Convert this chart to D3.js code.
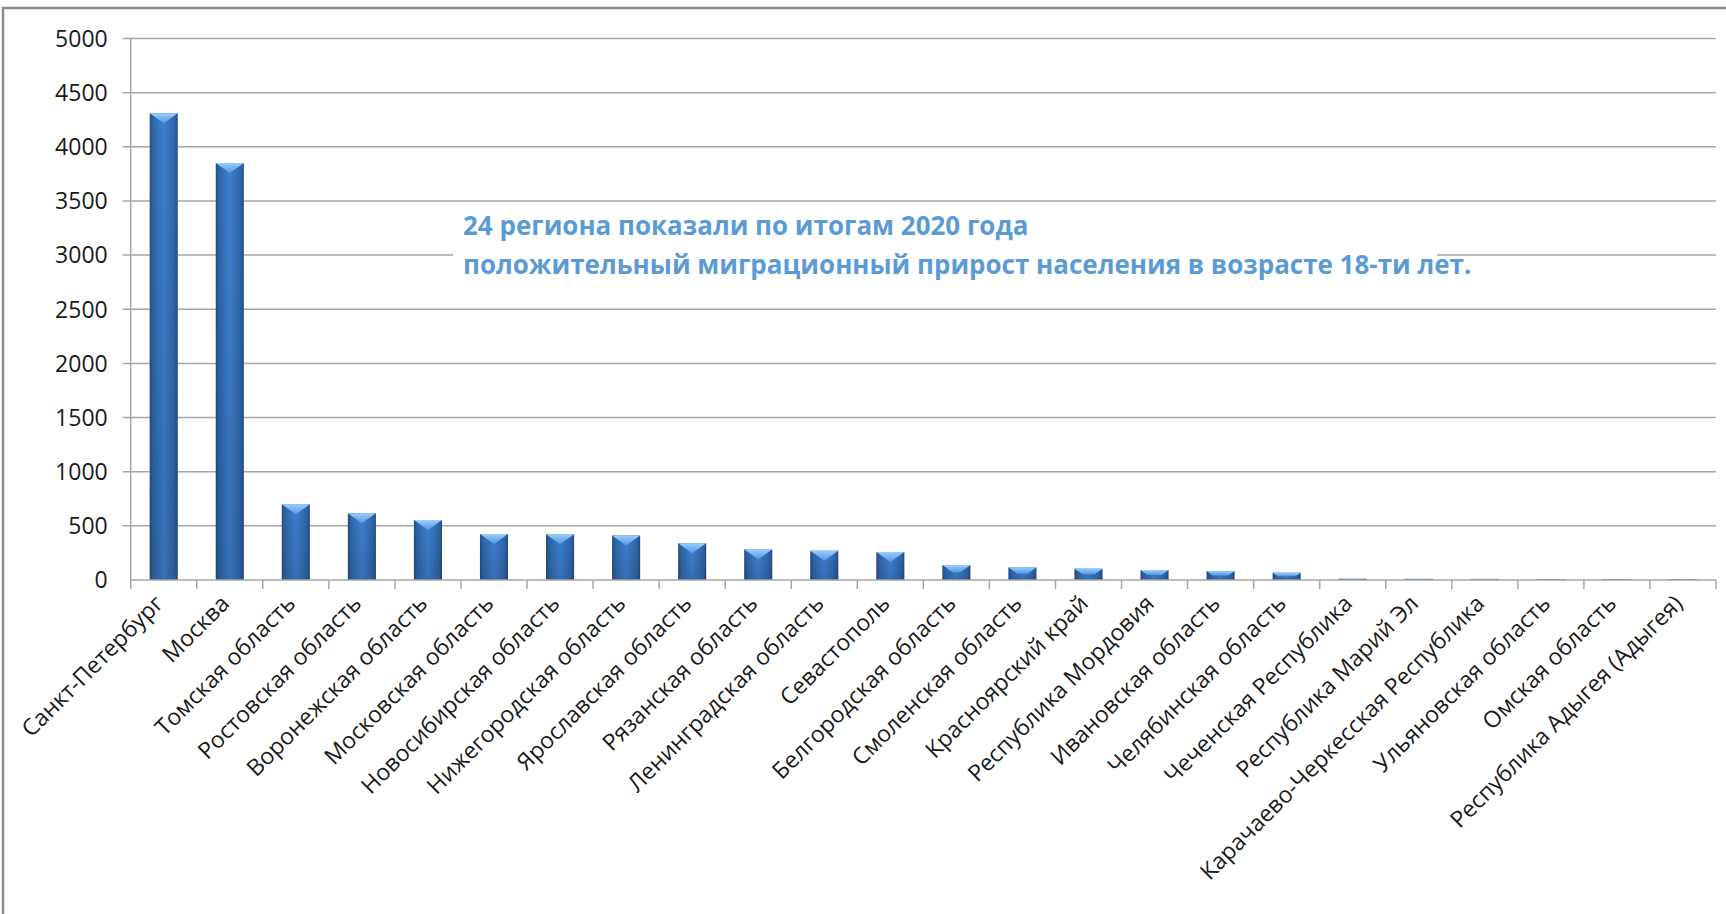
<!DOCTYPE html>
<html>
<head>
<meta charset="utf-8">
<title>Миграционный прирост 18-летних, 2020</title>
<script src="https://cdn.jsdelivr.net/npm/d3@7"></script>
<style>
  body { margin: 0; background: #fff; }
  svg { display: block; }
  .tick-label { font-family: "Open Sans", sans-serif; fill: #1a1a1a; }
  .note { font-family: "Open Sans", sans-serif; font-weight: bold; fill: #5b9bd5; }
</style>
</head>
<body>
<svg width="1726" height="914"></svg>
<script>

// regions, sorted by migration gain of 18-year-olds
var regions = [
  "Санкт-Петербург", "Москва", "Томская область", "Ростовская область",
  "Воронежская область", "Московская область", "Новосибирская область",
  "Нижегородская область", "Ярославская область", "Рязанская область",
  "Ленинградская область", "Севастополь", "Белгородская область",
  "Смоленская область", "Красноярский край", "Республика Мордовия",
  "Ивановская область", "Челябинская область", "Чеченская Республика",
  "Республика Марий Эл", "Карачаево-Черкесская Республика",
  "Ульяновская область", "Омская область", "Республика Адыгея (Адыгея)"
];

var gains = [
  4310, 3850, 699, 616, 554, 425, 422, 412, 339, 283, 271, 259,
  138, 117, 105, 92, 83, 68, 12, 11, 10, 9, 9, 8
];

var yTicks = [0, 500, 1000, 1500, 2000, 2500, 3000, 3500, 4000, 4500, 5000];

var noteLines = [
  "24 региона показали по итогам 2020 года",
  "положительный миграционный прирост населения в возрасте 18-ти лет."
];

var svg = d3.select("svg");

var plot = { left: 130.7, right: 1716, top: 38.5, bottom: 580 };

var x = d3.scaleBand()
    .domain(regions)
    .range([plot.left, plot.right])
    .paddingInner(0.575)
    .paddingOuter(0.2875);

var y = d3.scaleLinear()
    .domain([0, 5000])
    .range([plot.bottom, plot.top]);

// outer chart frame
svg.append("rect")
    .attr("x", 3).attr("y", 8)
    .attr("width", 1800).attr("height", 1000)
    .attr("fill", "#fff")
    .attr("stroke", "#8c8c8c")
    .attr("stroke-width", 2.5);

var defs = svg.append("defs");

var side = defs.append("linearGradient").attr("id", "barSide")
    .attr("x1", "0").attr("x2", "1").attr("y1", "0").attr("y2", "0");
[["0%", "#234d80"], ["12%", "#2f66a8"], ["50%", "#3d80cf"], ["88%", "#2f66a8"], ["100%", "#234d80"]]
  .forEach(function(s) { side.append("stop").attr("offset", s[0]).attr("stop-color", s[1]); });

var shade = defs.append("linearGradient").attr("id", "barShade")
    .attr("x1", "0").attr("x2", "0").attr("y1", "0").attr("y2", "1");
shade.append("stop").attr("offset", "0%").attr("stop-color", "#000").attr("stop-opacity", 0);
shade.append("stop").attr("offset", "100%").attr("stop-color", "#000").attr("stop-opacity", 0.12);

var bevel = defs.append("linearGradient").attr("id", "barTop")
    .attr("x1", "0").attr("x2", "0").attr("y1", "0").attr("y2", "1");
bevel.append("stop").attr("offset", "0%").attr("stop-color", "#9ccdfb");
bevel.append("stop").attr("offset", "100%").attr("stop-color", "#4f97e4");

// gridlines + y axis
var grid = svg.append("g");
grid.selectAll("line.grid")
    .data(yTicks.filter(function(d) { return d > 0; }))
  .enter().append("line")
    .attr("class", "grid")
    .attr("x1", plot.left - 8).attr("x2", plot.right)
    .attr("y1", function(d) { return y(d); })
    .attr("y2", function(d) { return y(d); })
    .attr("stroke", "#a6a6a6")
    .attr("stroke-width", 1.5);

grid.append("line")
    .attr("x1", plot.left).attr("x2", plot.left)
    .attr("y1", y(5000)).attr("y2", y(0))
    .attr("stroke", "#a6a6a6").attr("stroke-width", 1.5);

svg.append("g").selectAll("text")
    .data(yTicks)
  .enter().append("text")
    .attr("class", "tick-label")
    .attr("x", plot.left - 23)
    .attr("y", function(d) { return y(d); })
    .attr("dy", "0.36em")
    .attr("text-anchor", "end")
    .style("font-size", "23px")
    .text(function(d) { return d; });

// annotation box
var note = svg.append("g");
note.append("rect")
    .attr("x", 453).attr("y", 212)
    .attr("width", 984).attr("height", 76)
    .attr("fill", "#fff");

var noteText = note.selectAll("text")
    .data(noteLines)
  .enter().append("text")
    .attr("class", "note")
    .attr("x", 463)
    .attr("y", function(d, i) { return 235 + i * 38.5; })
    .style("font-size", "24px")
    .text(function(d) { return d; });

// fit the long line to its width in the original
var longLine = noteText.filter(function(d, i) { return i === 1; }).node();
var fs = 24 * 1009 / longLine.getComputedTextLength();
noteText.style("font-size", fs + "px");

// bars
var bars = svg.append("g").selectAll("g")
    .data(regions)
  .enter().append("g");

bars.append("rect")
    .attr("x", function(d) { return x(d); })
    .attr("y", function(d, i) { return y(gains[i]); })
    .attr("width", x.bandwidth())
    .attr("height", function(d, i) { return y(0) - y(gains[i]); })
    .attr("fill", "url(#barSide)");

bars.append("rect")
    .attr("x", function(d) { return x(d); })
    .attr("y", function(d, i) { return y(gains[i]); })
    .attr("width", x.bandwidth())
    .attr("height", function(d, i) { return y(0) - y(gains[i]); })
    .attr("fill", "url(#barShade)");

bars.append("path")
    .attr("fill", "url(#barTop)")
    .attr("d", function(d, i) {
      var x0 = x(d), x1 = x(d) + x.bandwidth(), t = y(gains[i]);
      var h = y(0) - t;
      var b = Math.min(10, h / 2);
      var inset = Math.min(x.bandwidth() / 2, b * 1.4);
      return "M" + x0 + "," + t + "L" + x1 + "," + t +
             "L" + (x1 - inset) + "," + (t + b) + "L" + (x0 + inset) + "," + (t + b) + "Z";
    });

// x axis
var step = x.step();
var bounds = regions.map(function(d) { return x(d) + x.bandwidth() / 2 - step / 2; });
bounds.push(x(regions[regions.length - 1]) + x.bandwidth() / 2 + step / 2);

svg.append("line")
    .attr("x1", plot.left).attr("x2", plot.right)
    .attr("y1", y(0)).attr("y2", y(0))
    .attr("stroke", "#a6a6a6").attr("stroke-width", 1.5);

svg.append("g").selectAll("line")
    .data(bounds)
  .enter().append("line")
    .attr("x1", function(d) { return d; }).attr("x2", function(d) { return d; })
    .attr("y1", y(0)).attr("y2", y(0) + 9)
    .attr("stroke", "#a6a6a6").attr("stroke-width", 1.5);

svg.append("g").selectAll("text")
    .data(regions)
  .enter().append("text")
    .attr("class", "tick-label")
    .attr("text-anchor", "end")
    .style("font-size", "23px")
    .attr("transform", function(d) {
      var cx = x(d) + x.bandwidth() / 2 + 1;
      return "translate(" + cx + "," + (y(0) + 25) + ") rotate(-45)";
    })
    .text(function(d) { return d; });

</script>
</body>
</html>
